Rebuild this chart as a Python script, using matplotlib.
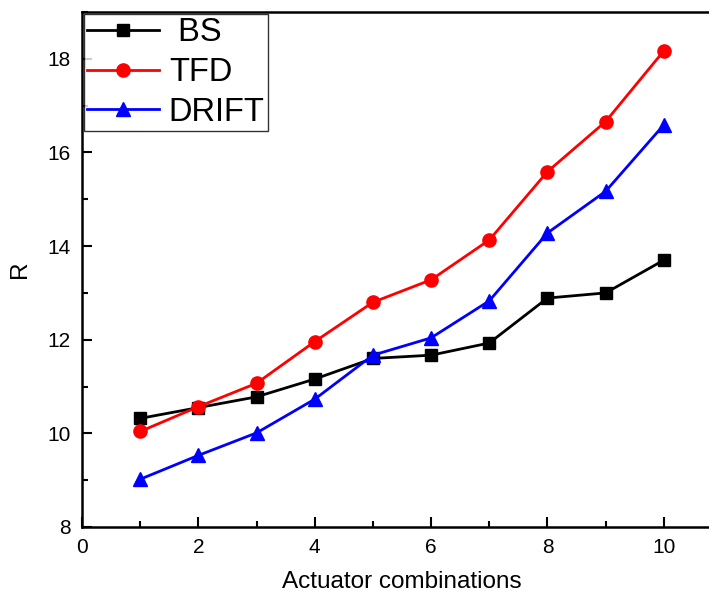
import matplotlib
matplotlib.use("Agg")
import matplotlib.pyplot as plt
from matplotlib.ticker import MultipleLocator

plt.rcParams['font.family'] = ['Liberation Sans', 'DejaVu Sans']

x = [1, 2, 3, 4, 5, 6, 7, 8, 9, 10]
bs = [10.32, 10.55, 10.78, 11.16, 11.60, 11.67, 11.93, 12.89, 13.00, 13.70]
tfd = [10.04, 10.57, 11.07, 11.96, 12.80, 13.28, 14.13, 15.59, 16.66, 18.17]
drift = [9.02, 9.53, 10.01, 10.73, 11.67, 12.04, 12.83, 14.28, 15.17, 16.59]
labels = [' BS', 'TFD', 'DRIFT']

fig = plt.figure(figsize=(7.09, 5.98), dpi=100)
ax = fig.add_axes([82/709, 71/598, 640/709, 515/598])

ax.plot(x, bs, color='black', marker='s', ms=8, lw=2, label=labels[0])
ax.plot(x, tfd, color='red', marker='o', ms=9.5, lw=2, label=labels[1])
ax.plot(x, drift, color='blue', marker='^', ms=10, lw=2, label=labels[2])

ax.set_xlim(0, 11)
ax.set_ylim(8, 19)
ax.xaxis.set_major_locator(MultipleLocator(2))
ax.xaxis.set_minor_locator(MultipleLocator(1))
ax.yaxis.set_major_locator(MultipleLocator(2))
ax.yaxis.set_minor_locator(MultipleLocator(1))
ax.set_yticks([8, 10, 12, 14, 16, 18])
ax.tick_params(which='major', direction='in', length=7, width=1.5, labelsize=15, pad=8)
ax.tick_params(which='minor', direction='in', length=4, width=1.5)
for s in ax.spines.values():
    s.set_linewidth(1.8)

ax.set_xlabel('Actuator combinations', fontsize=17.5, labelpad=10)
ax.set_ylabel('R', fontsize=17.5, labelpad=12)

leg = ax.legend(loc='upper left', fontsize=23.5, frameon=True, fancybox=False,
                edgecolor='black', borderaxespad=0.06, handlelength=2.2,
                handletextpad=0.3, borderpad=0.1, labelspacing=0.27)
leg.get_frame().set_linewidth(1.0)

fig.savefig('out.png', dpi=100)
